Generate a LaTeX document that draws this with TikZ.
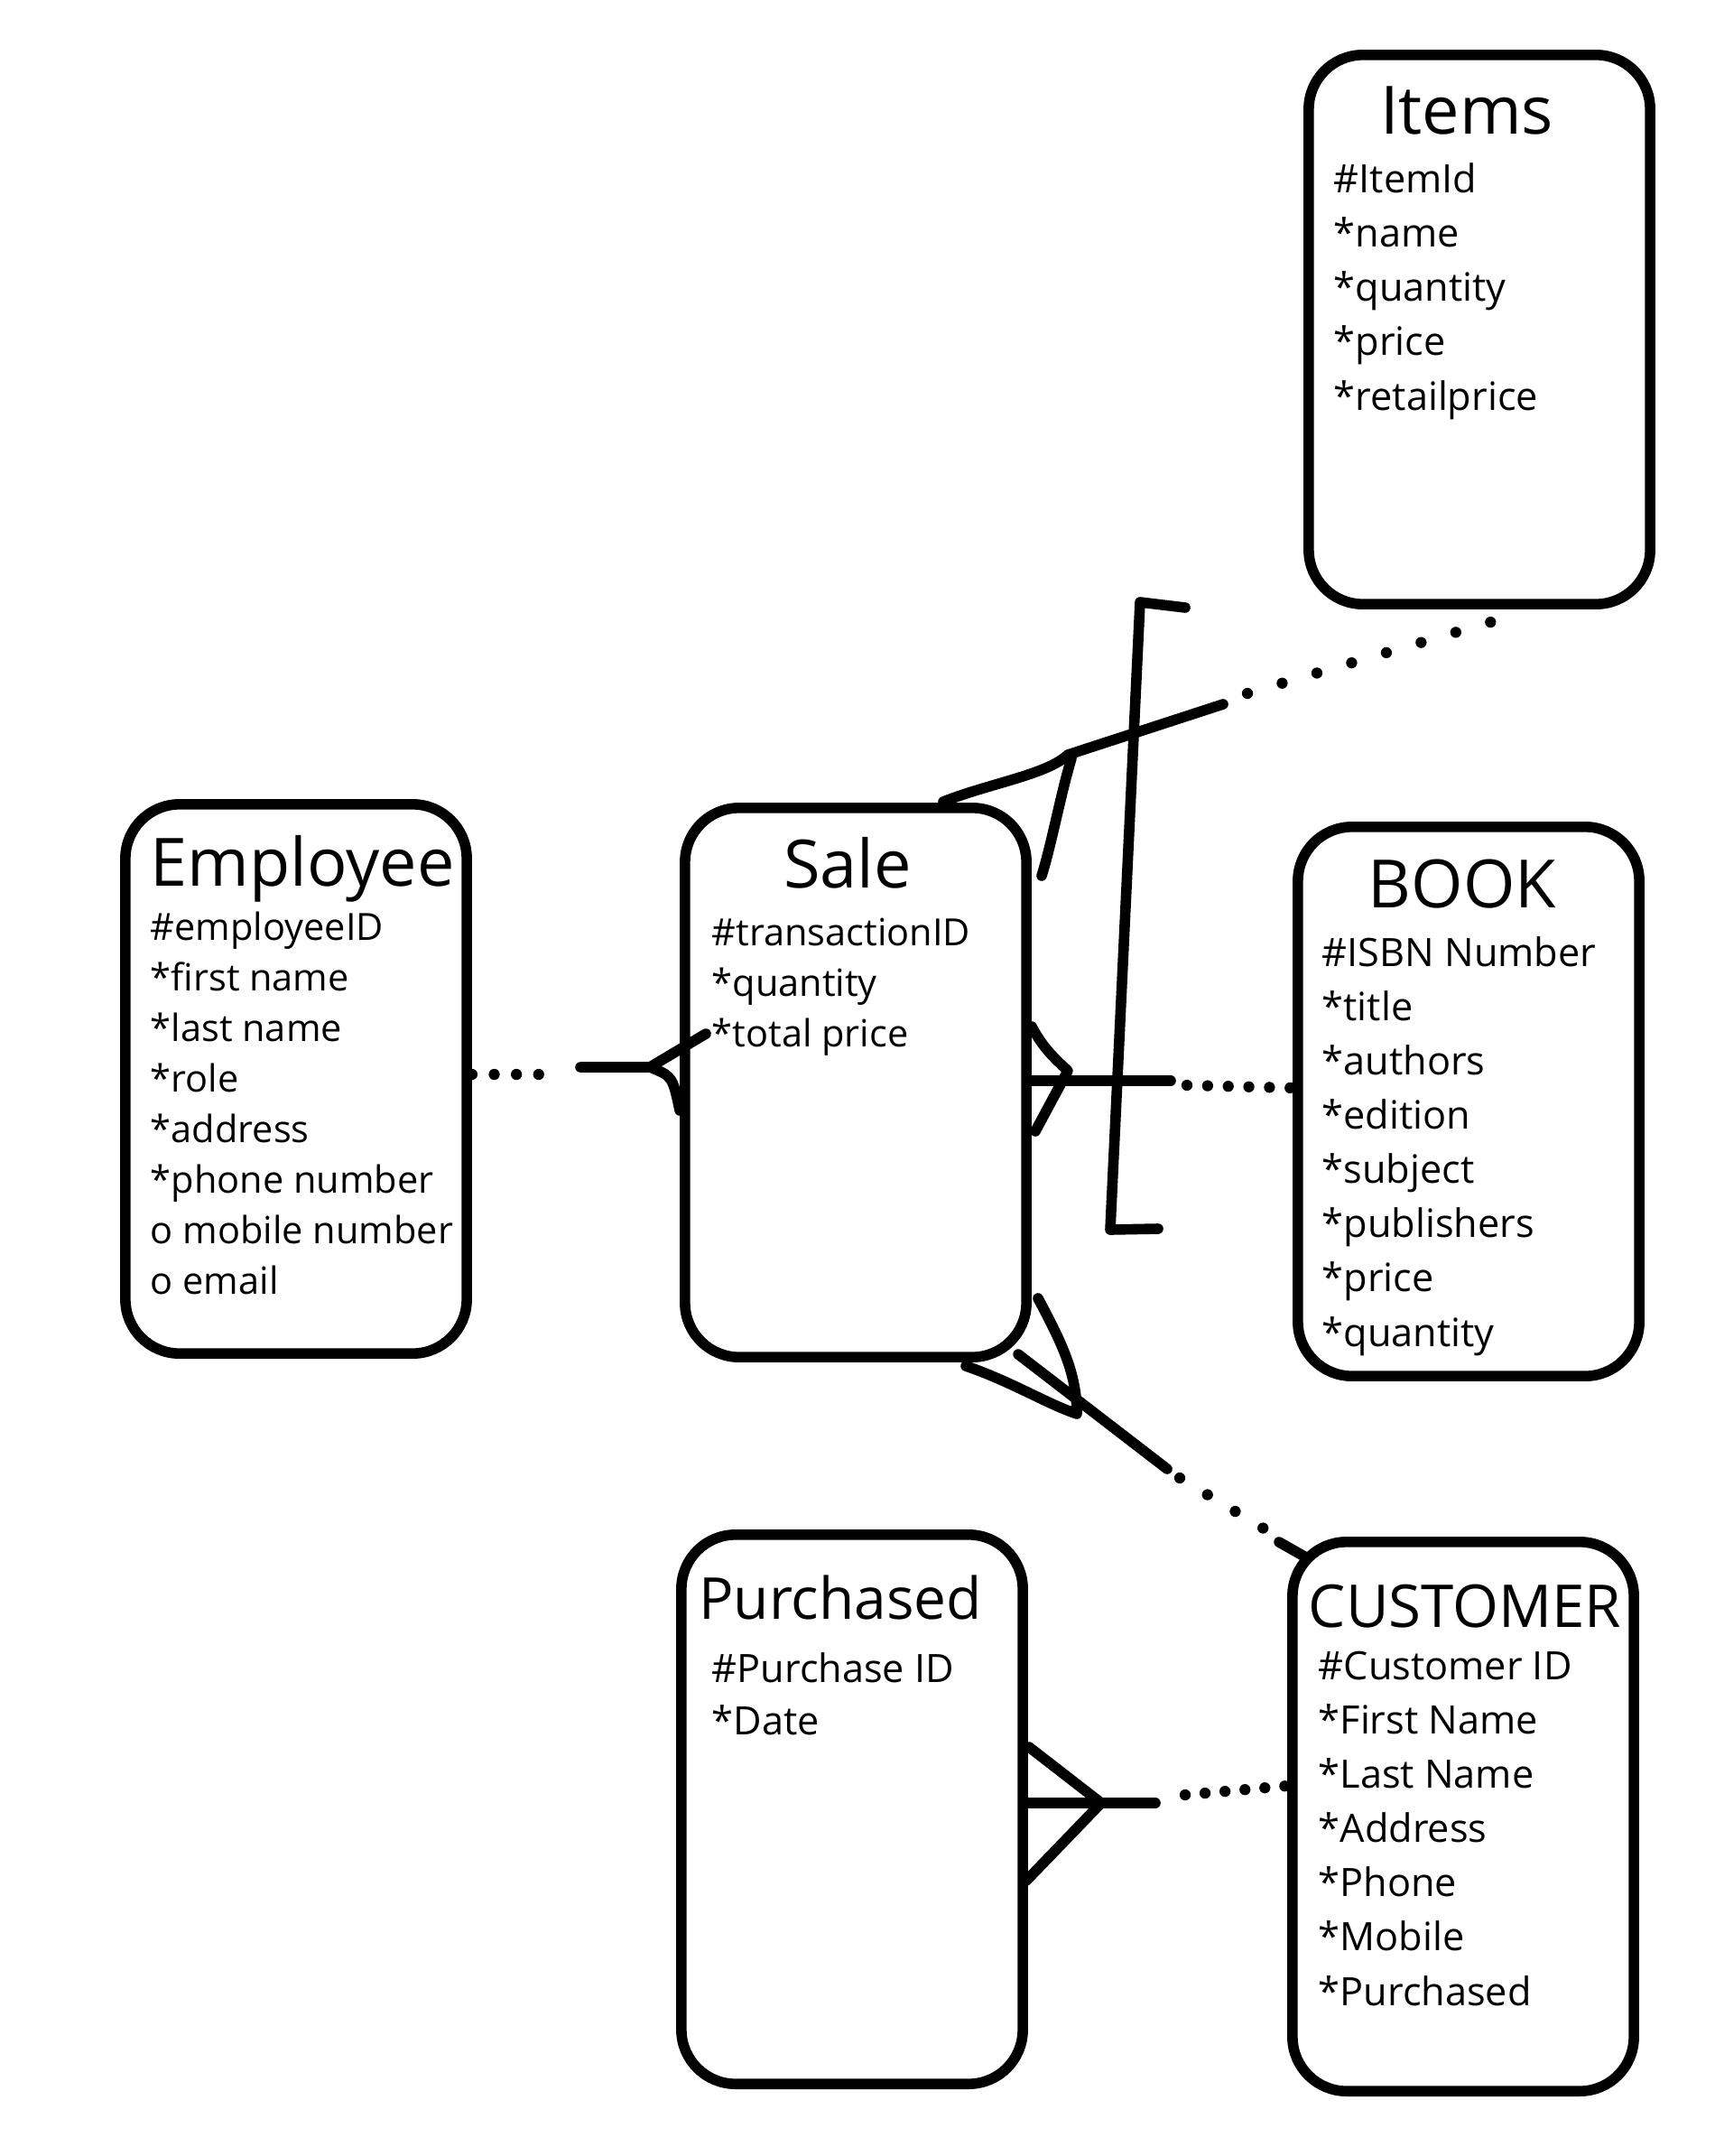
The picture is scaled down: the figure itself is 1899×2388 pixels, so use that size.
\documentclass[tikz,border=0pt]{standalone}
\usepackage{fontspec}
\setmainfont{Open Sans}
\usetikzlibrary{positioning}

\begin{document}
\begin{tikzpicture}[x=0.01cm, y=-0.01cm, line width=3.3pt, line cap=round, line join=round]
    \tikzstyle{ent} = [draw, rectangle, rounded corners=0.6cm, minimum width=3.78cm, minimum height=6.08cm, inner sep=0pt]
    \tikzstyle{ttl} = [anchor=base, inner sep=0pt, font=\fontsize{21}{25}\selectfont]
    \tikzstyle{att} = [anchor=base west, align=left, inner sep=0pt, font=\fontsize{12.3}{17.1}\selectfont]
    \tikzstyle{attsm} = [att, font=\fontsize{11.8}{15.9}\selectfont]
    \tikzstyle{ln} = [draw]
    \tikzstyle{dt} = [draw, line width=3.5pt, dash pattern=on 0pt off 11.4pt]
    \useasboundingbox (0,0) rectangle (1899,2388);

    % entities
    \node [ent] (items) at (1639,365) {};
    \node [ent] (emp) at (328,1195) {};
    \node [ent] (sale) at (948,1199) {};
    \node [ent] (book) at (1627,1220) {};
    \node [ent] (pur) at (944,2004) {};
    \node [ent] (cust) at (1621,2012) {};

    % titles and attributes (attributes placed at the baseline of their last line)
    \node [ttl] (itemsT) at (1625,149) {Items};
    \node [att] (itemsA) at (1472,454) {\#ItemId\\*name\\*quantity\\*price\\*retailprice};
    \node [ttl] (empT) at (335,981) {Employee};
    \node [attsm] (empA) at (161,1433) {\#employeeID\\*first name\\*last name\\*role\\*address\\*phone number\\o mobile number\\o email};
    \node [ttl] (saleT) at (939,983) {Sale};
    \node [attsm] (saleA) at (783,1159) {\#transactionID\\*quantity\\*total price};
    \node [ttl] (bookT) at (1620,1005) {BOOK};
    \node [att] (bookA) at (1459,1491) {\#ISBN Number\\*title\\*authors\\*edition\\*subject\\*publishers\\*price\\*quantity};
    \node [ttl, font=\fontsize{18.2}{22}\selectfont] (purT) at (931,1793) {Purchased};
    \node [att, font=\fontsize{12.3}{16.4}\selectfont] (purA) at (783,1921) {\#Purchase ID\\*Date};
    \node [ttl, font=\fontsize{18.6}{22}\selectfont] (custT) at (1623,1802) {CUSTOMER};
    \node [att] (custA) at (1455,2221) {\#Customer ID\\*First Name\\*Last Name\\*Address\\*Phone\\*Mobile\\*Purchased};

    % employee -- sale
    \coordinate (esfork) at (720,1182);
    \draw [dt, dash pattern=on 0pt off 7pt] (emp.east |- 0,1190) -- (617,1190);
    \draw [ln] (643,1182) -- (esfork) -- (782,1145);
    \draw [ln] (esfork) .. controls (745,1192) .. (sale.west |- 0,1230);

    % sale -- items
    \coordinate (sifork) at (1183,836);
    \draw [ln] (1045,888) .. controls (1095,868) and (1160,858) .. (sifork) -- (1355,780);
    \draw [ln] (1187,840) .. controls (1175,880) and (1165,935) .. (1154,970);
    \draw [dt] (1382,768) -- (1655,688);
    \draw [ln] (1313,673) -- (1263,667) -- (1230,1362) -- (1283,1361);

    % sale -- book
    \coordinate (sbfork) at (1183,1186);
    \draw [ln] (1143,1137) .. controls (1155,1160) and (1168,1172) .. (sbfork) -- (1147,1253);
    \draw [ln] (sale.east |- 0,1197) -- (1297,1197);
    \draw [dt, dash pattern=on 0pt off 6.5pt] (1315,1202) -- (book.west |- 0,1205);

    % sale -- customer
    \coordinate (scfork) at (1193,1566);
    \draw [ln] (1150,1438) .. controls (1175,1485) and (1193,1520) .. (scfork) .. controls (1160,1555) and (1120,1530) .. (1070,1513);
    \draw [ln] (1128,1500) -- (1293,1627);
    \draw [dt, dash pattern=on 0pt off 10.2pt] (1307,1637) -- (1400,1693);
    \draw [ln] (1417,1708) -- (1447,1725);

    % purchased -- customer
    \coordinate (pcfork) at (1220,1997);
    \draw [ln] (1140,1935) -- (pcfork) -- (1137,2083);
    \draw [ln] (pur.east |- 0,1997) -- (1280,1997);
    \draw [dt, dash pattern=on 0pt off 6.3pt] (1313,1988) -- (cust.west |- 0,1978);
\end{tikzpicture}
\end{document}
